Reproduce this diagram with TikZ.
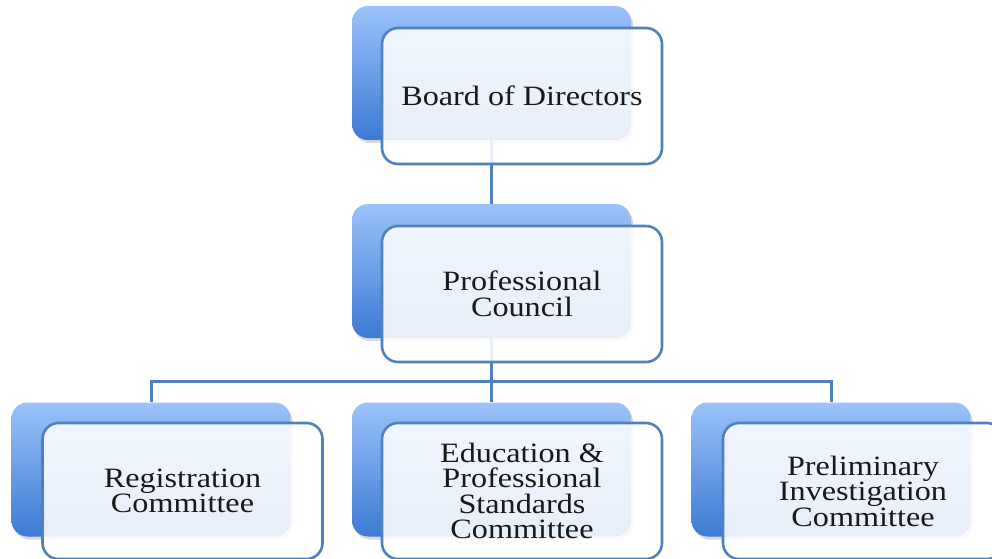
\documentclass[tikz,border=0pt]{standalone}
\usepackage{fontspec}
\setmainfont{Liberation Serif}[FakeStretch=1.15]
\usetikzlibrary{shadows}
\definecolor{accent}{RGB}{79,129,189}
\definecolor{backtop}{RGB}{155,194,250}
\definecolor{backbot}{RGB}{60,122,212}
\definecolor{txt}{RGB}{25,25,25}
\tikzset{
  backbox/.style={rounded corners=16pt, minimum width=279pt, minimum height=134pt, inner sep=0pt,
    top color=backtop, bottom color=backbot, draw=none,
    drop shadow={opacity=0.3, shadow xshift=2pt, shadow yshift=-3pt}},
  frontbox/.style={rounded corners=16pt, minimum width=280pt, minimum height=136pt, inner sep=0pt,
    draw=accent, line width=2.6pt, fill=white, fill opacity=0.88, text opacity=1, text=txt,
    align=center, font=\fontsize{28}{25.5}\selectfont},
  link/.style={draw=accent, line width=3pt}
}
\begin{document}
\begin{tikzpicture}[x=1pt,y=-1pt]
\useasboundingbox (0,0) rectangle (992,558);
\clip (0,0) rectangle (992,558);
% back boxes
\node[backbox] (bb) at (491.5,73) {};
\node[backbox] (cb) at (491.5,271) {};
\node[backbox] (lb) at (151,469.5) {};
\node[backbox] (mb) at (491.5,469.5) {};
\node[backbox] (rb) at (831,469.5) {};
% connectors
\coordinate (split) at (491.5,381);
\draw[link] (bb.south) -- (cb.north);
\draw[link] (cb.south) -- (split);
\draw[link] (lb.north) |- (split) -| (rb.north);
\draw[link] (split) -- (mb.north);
% front boxes
\node[frontbox] (bf) at (522,96) {Board of Directors};
\node[frontbox] (cf) at (522,294) {Professional\\Council};
\node[frontbox] (lf) at (182.5,491) {Registration\\Committee};
\node[frontbox] (mf) at (522,491) {Education \&\\Professional\\Standards\\Committee};
\node[frontbox] (rf) at (863,491) {Preliminary\\Investigation\\Committee};
\end{tikzpicture}
\end{document}
